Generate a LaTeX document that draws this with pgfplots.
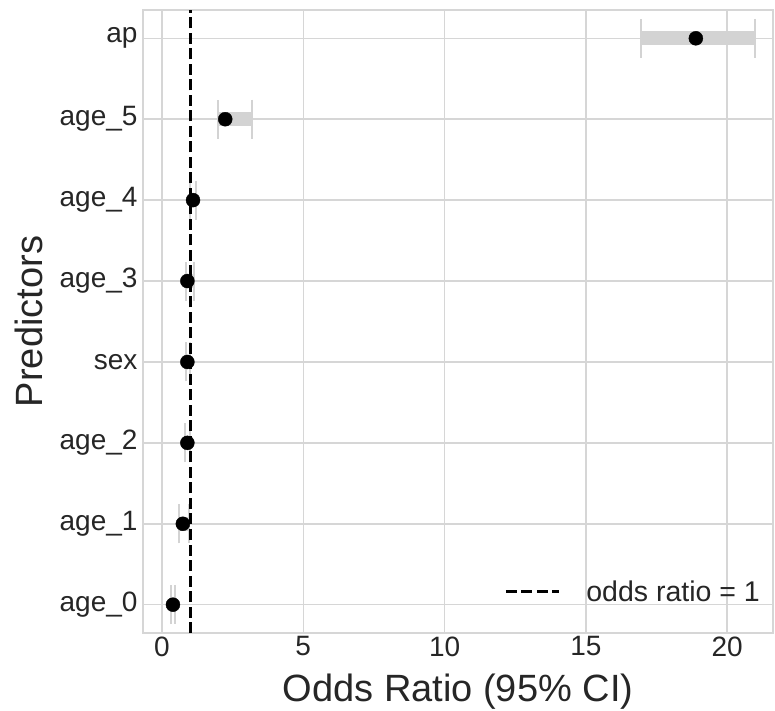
\documentclass[border=0pt]{standalone}
\usepackage{fontspec}
\setmainfont{Liberation Sans}
\usepackage{pgfplots}
\usepackage{pgfplotstable}
\pgfplotsset{compat=1.18}
\definecolor{txt}{HTML}{262626}
\definecolor{gridc}{HTML}{D6D6D6}
\definecolor{barc}{HTML}{D3D3D3}
\pgfplotstableread{
pos name or em ep
7 ap 18.89 1.95 2.09
6 age_5 2.24 0.26 0.95
5 age_4 1.10 0.12 0.11
4 age_3 0.90 0.04 0.25
3 sex 0.90 0.04 0.09
2 age_2 0.90 0.08 0.08
1 age_1 0.74 0.13 0.23
0 age_0 0.39 0.06 0.07
}\data
\begin{document}
\begin{tikzpicture}
\path[use as bounding box] (-143bp,-78bp) rectangle (632bp,633bp);
\begin{axis}[
  at={(0,0)}, anchor=south west,
  scale only axis, width=630bp, height=623bp,
  xmin=-0.67, xmax=21.62, ymin=-0.35, ymax=7.35,
  xtick={0,5,10,15,20},
  ytick={0,1,2,3,4,5,6,7},
  yticklabels={age\_0,age\_1,age\_2,sex,age\_3,age\_4,age\_5,ap},
  major tick length=0pt,
  grid=major,
  major grid style={gridc, line width=1.5bp},
  axis line style={gridc, line width=1.5bp},
  tick label style={txt, font=\fontsize{28bp}{32bp}\selectfont},
  /pgf/number format/assume math mode=true,
  xticklabel style={yshift=0bp},
  yticklabel style={xshift=-2bp},
  xlabel={Odds Ratio (95\% CI)},
  ylabel={Predictors},
  label style={txt, font=\fontsize{38bp}{44bp}\selectfont},
  xlabel style={yshift=-11bp},
  ylabel style={yshift=10bp},
  legend style={at={(rel axis cs:1,0)}, anchor=south east, draw=none, fill=none,
    font=\fontsize{28.5bp}{32bp}\selectfont, text=txt, xshift=-8bp, yshift=26bp,
    /tikz/every odd column/.append style={column sep=24bp}},
  legend image code/.code={\draw[#1] (0bp,0bp) -- (53bp,0bp);},
  legend cell align=left,
  clip=false,
]
\addplot[forget plot, draw=none, mark=none,
  error bars/.cd, x dir=both, x explicit,
  error bar style={line width=14bp, color=barc},
  error mark=|,
  error mark options={line width=2bp, color=barc, mark size=19.5bp}]
  table[x=or, y=pos, x error minus=em, x error plus=ep] {\data};
\addplot[forget plot, only marks, mark=*, mark size=7bp, black]
  table[x=or, y=pos] {\data};
\addplot[black, line width=3bp, dash pattern=on 11bp off 4.5bp]
  coordinates {(1,-0.35) (1,7.35)};
\addlegendentry{odds ratio = 1}
\end{axis}
\end{tikzpicture}
\end{document}
